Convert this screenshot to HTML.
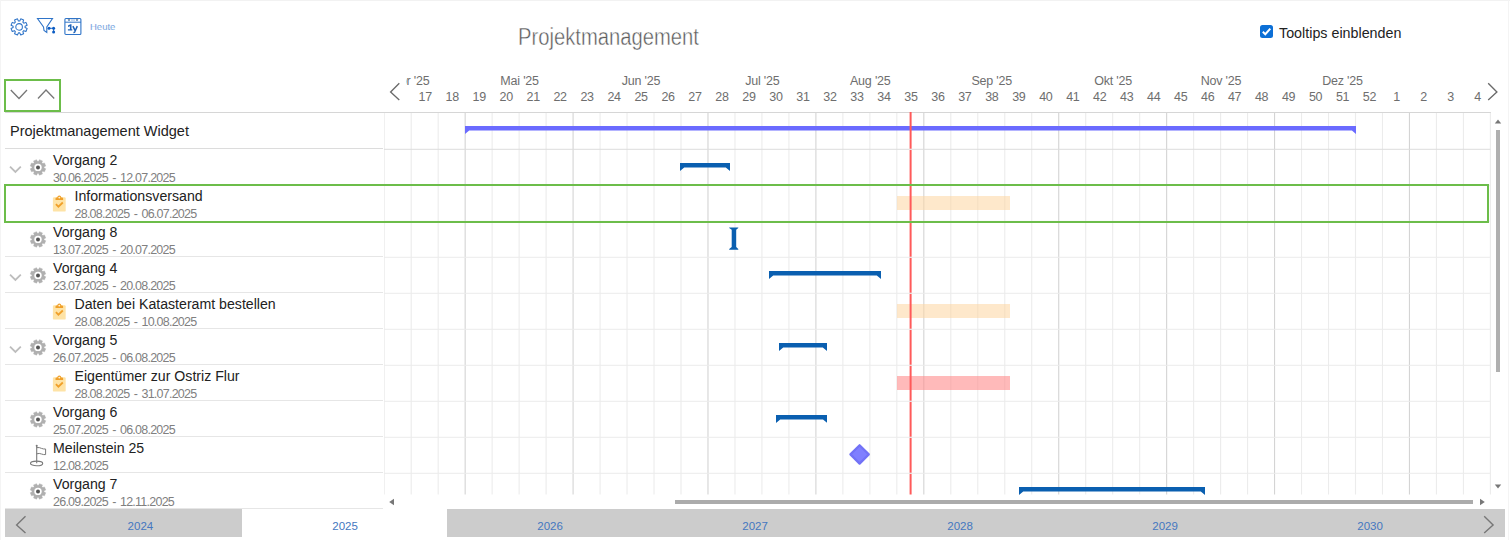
<!DOCTYPE html>
<html><head><meta charset="utf-8"><title>Projektmanagement</title><style>
*{box-sizing:border-box}
html,body{margin:0;padding:0}
body{width:1510px;height:540px;overflow:hidden;background:#fff;font-family:"Liberation Sans",sans-serif;position:relative;color:#222}
.a{position:absolute;white-space:nowrap}
.wk{position:absolute;top:89.6px;font-size:12.5px;color:#6e6e6e;text-align:center;width:30px;letter-spacing:-0.3px}
.mo{position:absolute;top:73.7px;font-size:12.5px;color:#6e6e6e;text-align:center;width:80px;letter-spacing:-0.2px}
.t{position:absolute;font-size:14.15px;color:#222;letter-spacing:0}
.d{position:absolute;font-size:12.5px;color:#808080;letter-spacing:-0.76px;word-spacing:1.6px}
.yr{position:absolute;top:519.5px;font-size:11.5px;color:#4577c0;text-align:center;width:60px}
</style></head><body>
<div class="a" style="left:0;top:0;width:1510px;height:1px;background:#f2f2f2"></div>
<div class="a" style="left:0;top:0;width:1px;height:540px;background:#f4f4f4"></div>
<div class="a" style="left:1508px;top:0;width:1px;height:540px;background:#f4f4f4"></div>
<svg class="a" style="left:8px;top:16px" width="22" height="22" viewBox="0 0 22 22">
<path fill="none" stroke="#2f74c8" stroke-width="1.05" stroke-linejoin="round" d="M11.78 4.94 L12.73 2.86 L15.63 4.06 L14.84 6.20 L15.80 7.16 L17.94 6.37 L19.14 9.27 L17.06 10.22 L17.06 11.58 L19.14 12.53 L17.94 15.43 L15.80 14.64 L14.84 15.60 L15.63 17.74 L12.73 18.94 L11.78 16.86 L10.42 16.86 L9.47 18.94 L6.57 17.74 L7.36 15.60 L6.40 14.64 L4.26 15.43 L3.06 12.53 L5.14 11.58 L5.14 10.22 L3.06 9.27 L4.26 6.37 L6.40 7.16 L7.36 6.20 L6.57 4.06 L9.47 2.86 L10.42 4.94 Z"/>
<circle cx="11.1" cy="10.9" r="3.3" fill="none" stroke="#2f74c8" stroke-width="1.05"/>
</svg>
<svg class="a" style="left:36px;top:16px" width="20" height="20" viewBox="0 0 20 20">
<path fill="none" stroke="#2f74c8" stroke-width="1.1" d="M1.5 2.5 L16.5 2.5 L10.8 11 L10.8 16.5 L8 14.5 L7.5 11 Z"/>
<circle cx="13" cy="12.3" r="1.5" fill="#0b5cc4"/><circle cx="17.6" cy="12.3" r="1.5" fill="#0b5cc4"/><circle cx="17.6" cy="16" r="1.5" fill="#0b5cc4"/>
<path stroke="#0b5cc4" stroke-width="0.9" d="M13 12.3 L17.6 12.3 M17.6 12.3 L17.6 16"/>
</svg>
<svg class="a" style="left:63px;top:17px" width="20" height="19" viewBox="0 0 20 19">
<rect x="1.9" y="1.5" width="16" height="16" rx="1" fill="none" stroke="#2f74c8" stroke-width="1.1"/>
<path stroke="#2f74c8" stroke-width="1" d="M2 5.2 L18 5.2"/>
<path stroke="#6a9fdc" stroke-width="0.8" d="M5 2.5 L6 4 L7 2.5 M13 2.5 L14 4 L15 2.5 M8 3 L12 3"/>
<path fill="#1f63b8" d="M5 8.6 L7.4 7.3 L8.5 7.3 L8.5 12.3 L9.3 12.3 L9.3 13.5 L4.9 13.5 L4.9 12.3 L6.9 12.3 L6.9 9.2 L5 10 Z"/><path fill="none" stroke="#1f63b8" stroke-width="1.5" d="M9.9 9.1 L12 13.4 M14.3 9.1 L11.8 14.8 Q11.4 15.6 10.4 15.5"/>
</svg>
<div class="a" style="left:90px;top:21px;font-size:9.5px;color:#3c7ed2;-webkit-text-stroke:0.2px #fff">Heute</div>
<div class="a" style="left:518px;top:23.5px;font-size:23.5px;color:#5a5a5a;-webkit-text-stroke:0.45px #fff;transform:scaleX(0.86);transform-origin:0 0">Projektmanagement</div>
<div class="a" style="left:1260px;top:25px;width:13px;height:13px;border-radius:2.5px;background:#0c6fd6"></div>
<svg class="a" style="left:1260px;top:25px" width="13" height="13" viewBox="0 0 13 13"><path d="M2.8 6.8 L5.3 9.2 L10.3 3.6" fill="none" stroke="#fff" stroke-width="2"/></svg>
<div class="a" style="left:1279px;top:25px;font-size:14.3px;color:#222">Tooltips einblenden</div>
<div class="a" style="left:4px;top:79px;width:57px;height:33px;border:2px solid #6cbd4a"></div>
<svg class="a" style="left:0;top:80px" width="70" height="30"><path d="M10.8 10 L19 18.5 L27 10 M38 18.5 L46 10 L54.2 18.5" fill="none" stroke="#777" stroke-width="1.3"/></svg>
<svg class="a" style="left:384px;top:112px" width="1110" height="382.5"><rect x="-0.33" y="0" width="1.1" height="382.5" fill="#ececec"/><rect x="26.65" y="0" width="1.1" height="382.5" fill="#ececec"/><rect x="53.63" y="0" width="1.1" height="382.5" fill="#ececec"/><rect x="80.61" y="0" width="1.1" height="382.5" fill="#d4d4d4"/><rect x="107.59" y="0" width="1.1" height="382.5" fill="#ececec"/><rect x="134.57" y="0" width="1.1" height="382.5" fill="#ececec"/><rect x="161.55" y="0" width="1.1" height="382.5" fill="#ececec"/><rect x="188.53" y="0" width="1.1" height="382.5" fill="#d4d4d4"/><rect x="215.51" y="0" width="1.1" height="382.5" fill="#ececec"/><rect x="242.49" y="0" width="1.1" height="382.5" fill="#ececec"/><rect x="269.47" y="0" width="1.1" height="382.5" fill="#ececec"/><rect x="296.45" y="0" width="1.1" height="382.5" fill="#ececec"/><rect x="323.43" y="0" width="1.1" height="382.5" fill="#d4d4d4"/><rect x="350.41" y="0" width="1.1" height="382.5" fill="#ececec"/><rect x="377.39" y="0" width="1.1" height="382.5" fill="#ececec"/><rect x="404.37" y="0" width="1.1" height="382.5" fill="#ececec"/><rect x="431.35" y="0" width="1.1" height="382.5" fill="#d4d4d4"/><rect x="458.33" y="0" width="1.1" height="382.5" fill="#ececec"/><rect x="485.31" y="0" width="1.1" height="382.5" fill="#ececec"/><rect x="512.29" y="0" width="1.1" height="382.5" fill="#ececec"/><rect x="539.27" y="0" width="1.1" height="382.5" fill="#d4d4d4"/><rect x="566.25" y="0" width="1.1" height="382.5" fill="#ececec"/><rect x="593.23" y="0" width="1.1" height="382.5" fill="#ececec"/><rect x="620.21" y="0" width="1.1" height="382.5" fill="#ececec"/><rect x="647.19" y="0" width="1.1" height="382.5" fill="#ececec"/><rect x="674.17" y="0" width="1.1" height="382.5" fill="#d4d4d4"/><rect x="701.15" y="0" width="1.1" height="382.5" fill="#ececec"/><rect x="728.13" y="0" width="1.1" height="382.5" fill="#ececec"/><rect x="755.11" y="0" width="1.1" height="382.5" fill="#ececec"/><rect x="782.09" y="0" width="1.1" height="382.5" fill="#d4d4d4"/><rect x="809.07" y="0" width="1.1" height="382.5" fill="#ececec"/><rect x="836.05" y="0" width="1.1" height="382.5" fill="#ececec"/><rect x="863.03" y="0" width="1.1" height="382.5" fill="#ececec"/><rect x="890.01" y="0" width="1.1" height="382.5" fill="#d4d4d4"/><rect x="916.99" y="0" width="1.1" height="382.5" fill="#ececec"/><rect x="943.97" y="0" width="1.1" height="382.5" fill="#ececec"/><rect x="970.95" y="0" width="1.1" height="382.5" fill="#ececec"/><rect x="997.93" y="0" width="1.1" height="382.5" fill="#ececec"/><rect x="1024.91" y="0" width="1.1" height="382.5" fill="#d4d4d4"/><rect x="1051.89" y="0" width="1.1" height="382.5" fill="#ececec"/><rect x="1078.87" y="0" width="1.1" height="382.5" fill="#ececec"/><rect x="1105.85" y="0" width="1.1" height="382.5" fill="#ececec"/><rect x="0" y="36.80" width="1106.4" height="1" fill="#dcdcdc"/><rect x="0" y="72.80" width="1106.4" height="1" fill="#ececec"/><rect x="0" y="108.80" width="1106.4" height="1" fill="#ececec"/><rect x="0" y="144.80" width="1106.4" height="1" fill="#ececec"/><rect x="0" y="180.80" width="1106.4" height="1" fill="#ececec"/><rect x="0" y="216.80" width="1106.4" height="1" fill="#ececec"/><rect x="0" y="252.80" width="1106.4" height="1" fill="#ececec"/><rect x="0" y="288.80" width="1106.4" height="1" fill="#ececec"/><rect x="0" y="324.80" width="1106.4" height="1" fill="#ececec"/><rect x="0" y="360.80" width="1106.4" height="1" fill="#ececec"/><rect x="0" y="-0.2" width="1106.9" height="1.2" fill="#d6d6d6"/></svg>
<div class="a" style="left:5px;top:112px;width:379px;height:1px;background:#d6d6d6"></div>
<div class="a" style="left:5px;top:148px;width:378px;height:1px;background:#dcdcdc"></div>
<div class="a" style="left:5px;top:256px;width:378px;height:1px;background:#e6e6e6"></div>
<div class="a" style="left:5px;top:292px;width:378px;height:1px;background:#e6e6e6"></div>
<div class="a" style="left:5px;top:328px;width:378px;height:1px;background:#e6e6e6"></div>
<div class="a" style="left:5px;top:364px;width:378px;height:1px;background:#e6e6e6"></div>
<div class="a" style="left:5px;top:400px;width:378px;height:1px;background:#e6e6e6"></div>
<div class="a" style="left:5px;top:436px;width:378px;height:1px;background:#e6e6e6"></div>
<div class="a" style="left:5px;top:472px;width:378px;height:1px;background:#e6e6e6"></div>
<div class="a" style="left:5px;top:508px;width:378px;height:1px;background:#e6e6e6"></div>
<div class="a" style="left:5px;top:508px;width:378px;height:1px;background:#e6e6e6"></div>
<div class="a" style="left:405.5px;top:0;width:1079.5px;height:112px;overflow:hidden"><div class="wk" style="left:4.7px">17</div><div class="wk" style="left:31.7px">18</div><div class="wk" style="left:58.7px">19</div><div class="wk" style="left:85.7px">20</div><div class="wk" style="left:112.7px">21</div><div class="wk" style="left:139.6px">22</div><div class="wk" style="left:166.6px">23</div><div class="wk" style="left:193.6px">24</div><div class="wk" style="left:220.6px">25</div><div class="wk" style="left:247.6px">26</div><div class="wk" style="left:274.5px">27</div><div class="wk" style="left:301.5px">28</div><div class="wk" style="left:328.5px">29</div><div class="wk" style="left:355.5px">30</div><div class="wk" style="left:382.5px">31</div><div class="wk" style="left:409.4px">32</div><div class="wk" style="left:436.4px">33</div><div class="wk" style="left:463.4px">34</div><div class="wk" style="left:490.4px">35</div><div class="wk" style="left:517.4px">36</div><div class="wk" style="left:544.3px">37</div><div class="wk" style="left:571.3px">38</div><div class="wk" style="left:598.3px">39</div><div class="wk" style="left:625.3px">40</div><div class="wk" style="left:652.3px">41</div><div class="wk" style="left:679.2px">42</div><div class="wk" style="left:706.2px">43</div><div class="wk" style="left:733.2px">44</div><div class="wk" style="left:760.2px">45</div><div class="wk" style="left:787.2px">46</div><div class="wk" style="left:814.1px">47</div><div class="wk" style="left:841.1px">48</div><div class="wk" style="left:868.1px">49</div><div class="wk" style="left:895.1px">50</div><div class="wk" style="left:922.1px">51</div><div class="wk" style="left:949.0px">52</div><div class="wk" style="left:976.0px">1</div><div class="wk" style="left:1003.0px">2</div><div class="wk" style="left:1030.0px">3</div><div class="wk" style="left:1057.0px">4</div><div class="mo" style="left:74.1px">Mai '25</div><div class="mo" style="left:195.5px">Jun '25</div><div class="mo" style="left:316.9px">Jul '25</div><div class="mo" style="left:424.8px">Aug '25</div><div class="mo" style="left:546.2px">Sep '25</div><div class="mo" style="left:667.6px">Okt '25</div><div class="mo" style="left:775.5px">Nov '25</div><div class="mo" style="left:897.0px">Dez '25</div><div class="mo" style="left:-56.0px;text-align:right">Apr '25</div></div>
<svg class="a" style="left:386px;top:80px" width="18" height="24"><path d="M13.3 3.3 L4.6 11.9 L13.3 20" fill="none" stroke="#6a6a6a" stroke-width="1.35"/></svg>
<svg class="a" style="left:1484px;top:80px" width="18" height="24"><path d="M4.2 3.3 L12.9 11.9 L4.2 20" fill="none" stroke="#6a6a6a" stroke-width="1.35"/></svg>
<svg class="a" style="left:464.7px;top:125.8px" width="891.1" height="9" viewBox="0 0 891.1 9"><path d="M0 0 L891.1 0 L891.1 8 L886.9 4.4 L4.2 4.4 L0 8 Z" fill="#6b6bff"/></svg>
<svg class="a" style="left:680.0px;top:163.1px" width="50.0" height="9" viewBox="0 0 50.0 9"><path d="M0 0 L50.0 0 L50.0 8 L45.8 4.4 L4.2 4.4 L0 8 Z" fill="#0a5fb0"/></svg>
<svg class="a" style="left:769.0px;top:270.8px" width="112.0" height="9" viewBox="0 0 112.0 9"><path d="M0 0 L112.0 0 L112.0 8 L107.8 4.4 L4.2 4.4 L0 8 Z" fill="#0a5fb0"/></svg>
<svg class="a" style="left:779.0px;top:342.9px" width="48.0" height="9" viewBox="0 0 48.0 9"><path d="M0 0 L48.0 0 L48.0 8 L43.8 4.4 L4.2 4.4 L0 8 Z" fill="#0a5fb0"/></svg>
<svg class="a" style="left:775.8px;top:414.9px" width="51.2" height="9" viewBox="0 0 51.2 9"><path d="M0 0 L51.2 0 L51.2 8 L47.0 4.4 L4.2 4.4 L0 8 Z" fill="#0a5fb0"/></svg>
<div class="a" style="left:1019px;top:486px;width:187px;height:8.5px;overflow:hidden"><svg class="a" style="left:0px;top:1px" width="186.0" height="9" viewBox="0 0 186.0 9"><path d="M0 0 L186.0 0 L186.0 8 L181.8 4.4 L4.2 4.4 L0 8 Z" fill="#0a5fb0"/></svg></div>
<svg class="a" style="left:728px;top:226px" width="12" height="25" viewBox="0 0 12 25"><path d="M1.2 1.4 L10.3 1.4 L10.3 2 L8.2 3.8 L8.2 21 L10.3 22.9 L10.3 23.7 L1.2 23.7 L1.2 22.9 L3.7 21 L3.7 3.8 L1.2 2 Z" fill="#0a5fb0"/></svg>
<div class="a" style="left:897px;top:196px;width:113px;height:14px;background:rgba(253,214,160,0.55)"></div>
<div class="a" style="left:897px;top:304px;width:113px;height:14px;background:rgba(253,214,160,0.55)"></div>
<div class="a" style="left:897px;top:376px;width:113px;height:14px;background:rgba(255,140,140,0.6)"></div>
<svg class="a" style="left:847px;top:442px" width="25" height="25" viewBox="0 0 25 25"><path d="M12.6 3.2 L21.8 12.4 L12.6 21.6 L3.4 12.4 Z" fill="#7f7fff" stroke="#7272f6" stroke-width="2.2" stroke-linejoin="round"/></svg>
<svg class="a" style="left:900px;top:112px" width="20" height="383"><rect x="9.6" y="0" width="2" height="382.5" fill="#ff5a5a"/><rect x="9" y="36.70" width="3" height="1.2" fill="#ececec"/><rect x="9" y="72.70" width="3" height="1.2" fill="#ececec"/><rect x="9" y="108.70" width="3" height="1.2" fill="#ececec"/><rect x="9" y="144.70" width="3" height="1.2" fill="#ececec"/><rect x="9" y="180.70" width="3" height="1.2" fill="#ececec"/><rect x="9" y="216.70" width="3" height="1.2" fill="#ececec"/><rect x="9" y="252.70" width="3" height="1.2" fill="#ececec"/><rect x="9" y="288.70" width="3" height="1.2" fill="#ececec"/><rect x="9" y="324.70" width="3" height="1.2" fill="#ececec"/><rect x="9" y="360.70" width="3" height="1.2" fill="#ececec"/></svg>
<div class="a" style="left:4px;top:184px;width:1485px;height:39px;border:2px solid #6cbd4a"></div>
<div class="t" style="left:10px;top:123px;font-size:14.5px">Projektmanagement Widget</div>
<svg class="a" style="left:8px;top:165px" width="14" height="10"><path d="M2 1.6 L7.4 7 L12.8 1.6" fill="none" stroke="#bdbdbd" stroke-width="1.8"/></svg><svg class="a" style="left:29px;top:158px" width="18" height="18" viewBox="0 0 18 18"><path fill="#b0b0b0" stroke="#b0b0b0" stroke-width="0.4" stroke-linejoin="round" d="M9.46 3.52 L10.44 1.63 L13.47 2.89 L12.83 4.91 L13.49 5.57 L15.51 4.93 L16.77 7.96 L14.88 8.94 L14.88 9.86 L16.77 10.84 L15.51 13.87 L13.49 13.23 L12.83 13.89 L13.47 15.91 L10.44 17.17 L9.46 15.28 L8.54 15.28 L7.56 17.17 L4.53 15.91 L5.17 13.89 L4.51 13.23 L2.49 13.87 L1.23 10.84 L3.12 9.86 L3.12 8.94 L1.23 7.96 L2.49 4.93 L4.51 5.57 L5.17 4.91 L4.53 2.89 L7.56 1.63 L8.54 3.52 Z"/><circle cx="9" cy="9.4" r="5.9" fill="#b0b0b0"/><circle cx="9" cy="9.4" r="3.7" fill="#fff"/><circle cx="9" cy="9.4" r="2" fill="#555"/></svg><div class="t" style="left:53px;top:152.2px">Vorgang 2</div><div class="d" style="left:53px;top:171.2px">30.06.2025 - 12.07.2025</div><svg class="a" style="left:52px;top:195px" width="14" height="18" viewBox="0 0 14 18"><rect x="0.9" y="2.2" width="12.8" height="14.4" rx="1.2" fill="#fee3a6"/><path d="M3.5 5 L3.5 3.6 Q3.5 2.6 4.6 2.6 L5.2 2.6 Q5.5 0.4 7.3 0.4 Q9.1 0.4 9.4 2.6 L10 2.6 Q11.1 2.6 11.1 3.6 L11.1 5 Z" fill="#f0a02a"/><circle cx="7.3" cy="2.6" r="0.95" fill="#fff3d8"/><path d="M3.9 9.2 L6.4 11.7 L10.8 7.5" fill="none" stroke="#f0a02a" stroke-width="1.8"/></svg><div class="t" style="left:74.5px;top:188.2px">Informationsversand</div><div class="d" style="left:74.5px;top:207.2px">28.08.2025 - 06.07.2025</div><svg class="a" style="left:29px;top:230px" width="18" height="18" viewBox="0 0 18 18"><path fill="#b0b0b0" stroke="#b0b0b0" stroke-width="0.4" stroke-linejoin="round" d="M9.46 3.52 L10.44 1.63 L13.47 2.89 L12.83 4.91 L13.49 5.57 L15.51 4.93 L16.77 7.96 L14.88 8.94 L14.88 9.86 L16.77 10.84 L15.51 13.87 L13.49 13.23 L12.83 13.89 L13.47 15.91 L10.44 17.17 L9.46 15.28 L8.54 15.28 L7.56 17.17 L4.53 15.91 L5.17 13.89 L4.51 13.23 L2.49 13.87 L1.23 10.84 L3.12 9.86 L3.12 8.94 L1.23 7.96 L2.49 4.93 L4.51 5.57 L5.17 4.91 L4.53 2.89 L7.56 1.63 L8.54 3.52 Z"/><circle cx="9" cy="9.4" r="5.9" fill="#b0b0b0"/><circle cx="9" cy="9.4" r="3.7" fill="#fff"/><circle cx="9" cy="9.4" r="2" fill="#555"/></svg><div class="t" style="left:53px;top:224.2px">Vorgang 8</div><div class="d" style="left:53px;top:243.2px">13.07.2025 - 20.07.2025</div><svg class="a" style="left:8px;top:273px" width="14" height="10"><path d="M2 1.6 L7.4 7 L12.8 1.6" fill="none" stroke="#bdbdbd" stroke-width="1.8"/></svg><svg class="a" style="left:29px;top:266px" width="18" height="18" viewBox="0 0 18 18"><path fill="#b0b0b0" stroke="#b0b0b0" stroke-width="0.4" stroke-linejoin="round" d="M9.46 3.52 L10.44 1.63 L13.47 2.89 L12.83 4.91 L13.49 5.57 L15.51 4.93 L16.77 7.96 L14.88 8.94 L14.88 9.86 L16.77 10.84 L15.51 13.87 L13.49 13.23 L12.83 13.89 L13.47 15.91 L10.44 17.17 L9.46 15.28 L8.54 15.28 L7.56 17.17 L4.53 15.91 L5.17 13.89 L4.51 13.23 L2.49 13.87 L1.23 10.84 L3.12 9.86 L3.12 8.94 L1.23 7.96 L2.49 4.93 L4.51 5.57 L5.17 4.91 L4.53 2.89 L7.56 1.63 L8.54 3.52 Z"/><circle cx="9" cy="9.4" r="5.9" fill="#b0b0b0"/><circle cx="9" cy="9.4" r="3.7" fill="#fff"/><circle cx="9" cy="9.4" r="2" fill="#555"/></svg><div class="t" style="left:53px;top:260.2px">Vorgang 4</div><div class="d" style="left:53px;top:279.2px">23.07.2025 - 20.08.2025</div><svg class="a" style="left:52px;top:303px" width="14" height="18" viewBox="0 0 14 18"><rect x="0.9" y="2.2" width="12.8" height="14.4" rx="1.2" fill="#fee3a6"/><path d="M3.5 5 L3.5 3.6 Q3.5 2.6 4.6 2.6 L5.2 2.6 Q5.5 0.4 7.3 0.4 Q9.1 0.4 9.4 2.6 L10 2.6 Q11.1 2.6 11.1 3.6 L11.1 5 Z" fill="#f0a02a"/><circle cx="7.3" cy="2.6" r="0.95" fill="#fff3d8"/><path d="M3.9 9.2 L6.4 11.7 L10.8 7.5" fill="none" stroke="#f0a02a" stroke-width="1.8"/></svg><div class="t" style="left:74.5px;top:296.2px">Daten bei Katasteramt bestellen</div><div class="d" style="left:74.5px;top:315.2px">28.08.2025 - 10.08.2025</div><svg class="a" style="left:8px;top:345px" width="14" height="10"><path d="M2 1.6 L7.4 7 L12.8 1.6" fill="none" stroke="#bdbdbd" stroke-width="1.8"/></svg><svg class="a" style="left:29px;top:338px" width="18" height="18" viewBox="0 0 18 18"><path fill="#b0b0b0" stroke="#b0b0b0" stroke-width="0.4" stroke-linejoin="round" d="M9.46 3.52 L10.44 1.63 L13.47 2.89 L12.83 4.91 L13.49 5.57 L15.51 4.93 L16.77 7.96 L14.88 8.94 L14.88 9.86 L16.77 10.84 L15.51 13.87 L13.49 13.23 L12.83 13.89 L13.47 15.91 L10.44 17.17 L9.46 15.28 L8.54 15.28 L7.56 17.17 L4.53 15.91 L5.17 13.89 L4.51 13.23 L2.49 13.87 L1.23 10.84 L3.12 9.86 L3.12 8.94 L1.23 7.96 L2.49 4.93 L4.51 5.57 L5.17 4.91 L4.53 2.89 L7.56 1.63 L8.54 3.52 Z"/><circle cx="9" cy="9.4" r="5.9" fill="#b0b0b0"/><circle cx="9" cy="9.4" r="3.7" fill="#fff"/><circle cx="9" cy="9.4" r="2" fill="#555"/></svg><div class="t" style="left:53px;top:332.2px">Vorgang 5</div><div class="d" style="left:53px;top:351.2px">26.07.2025 - 06.08.2025</div><svg class="a" style="left:52px;top:375px" width="14" height="18" viewBox="0 0 14 18"><rect x="0.9" y="2.2" width="12.8" height="14.4" rx="1.2" fill="#fee3a6"/><path d="M3.5 5 L3.5 3.6 Q3.5 2.6 4.6 2.6 L5.2 2.6 Q5.5 0.4 7.3 0.4 Q9.1 0.4 9.4 2.6 L10 2.6 Q11.1 2.6 11.1 3.6 L11.1 5 Z" fill="#f0a02a"/><circle cx="7.3" cy="2.6" r="0.95" fill="#fff3d8"/><path d="M3.9 9.2 L6.4 11.7 L10.8 7.5" fill="none" stroke="#f0a02a" stroke-width="1.8"/></svg><div class="t" style="left:74.5px;top:368.2px">Eigentümer zur Ostriz Flur</div><div class="d" style="left:74.5px;top:387.2px">28.08.2025 - 31.07.2025</div><svg class="a" style="left:29px;top:410px" width="18" height="18" viewBox="0 0 18 18"><path fill="#b0b0b0" stroke="#b0b0b0" stroke-width="0.4" stroke-linejoin="round" d="M9.46 3.52 L10.44 1.63 L13.47 2.89 L12.83 4.91 L13.49 5.57 L15.51 4.93 L16.77 7.96 L14.88 8.94 L14.88 9.86 L16.77 10.84 L15.51 13.87 L13.49 13.23 L12.83 13.89 L13.47 15.91 L10.44 17.17 L9.46 15.28 L8.54 15.28 L7.56 17.17 L4.53 15.91 L5.17 13.89 L4.51 13.23 L2.49 13.87 L1.23 10.84 L3.12 9.86 L3.12 8.94 L1.23 7.96 L2.49 4.93 L4.51 5.57 L5.17 4.91 L4.53 2.89 L7.56 1.63 L8.54 3.52 Z"/><circle cx="9" cy="9.4" r="5.9" fill="#b0b0b0"/><circle cx="9" cy="9.4" r="3.7" fill="#fff"/><circle cx="9" cy="9.4" r="2" fill="#555"/></svg><div class="t" style="left:53px;top:404.2px">Vorgang 6</div><div class="d" style="left:53px;top:423.2px">25.07.2025 - 06.08.2025</div><svg class="a" style="left:29px;top:444px" width="18" height="24" viewBox="0 0 18 24"><path d="M7.7 1.6 L7.7 19.2" fill="none" stroke="#7a7a7a" stroke-width="1.1"/><circle cx="7.7" cy="1.8" r="1" fill="#7a7a7a"/><path d="M7.7 3.6 Q10.5 3.2 12.5 4.4 Q14.5 5.2 16.6 5 L16.6 10.6 Q14.5 10.8 12.5 10 Q10.5 9 7.7 9.8" fill="none" stroke="#7a7a7a" stroke-width="1"/><ellipse cx="7.6" cy="19.4" rx="6.1" ry="2.3" fill="none" stroke="#7a7a7a" stroke-width="1.1"/></svg><div class="t" style="left:53px;top:440.2px">Meilenstein 25</div><div class="d" style="left:53px;top:459.2px">12.08.2025</div><svg class="a" style="left:29px;top:482px" width="18" height="18" viewBox="0 0 18 18"><path fill="#b0b0b0" stroke="#b0b0b0" stroke-width="0.4" stroke-linejoin="round" d="M9.46 3.52 L10.44 1.63 L13.47 2.89 L12.83 4.91 L13.49 5.57 L15.51 4.93 L16.77 7.96 L14.88 8.94 L14.88 9.86 L16.77 10.84 L15.51 13.87 L13.49 13.23 L12.83 13.89 L13.47 15.91 L10.44 17.17 L9.46 15.28 L8.54 15.28 L7.56 17.17 L4.53 15.91 L5.17 13.89 L4.51 13.23 L2.49 13.87 L1.23 10.84 L3.12 9.86 L3.12 8.94 L1.23 7.96 L2.49 4.93 L4.51 5.57 L5.17 4.91 L4.53 2.89 L7.56 1.63 L8.54 3.52 Z"/><circle cx="9" cy="9.4" r="5.9" fill="#b0b0b0"/><circle cx="9" cy="9.4" r="3.7" fill="#fff"/><circle cx="9" cy="9.4" r="2" fill="#555"/></svg><div class="t" style="left:53px;top:476.2px">Vorgang 7</div><div class="d" style="left:53px;top:495.2px">26.09.2025 - 12.11.2025</div>
<div class="a" style="left:1495.5px;top:130px;width:4.5px;height:241.5px;background:#b0b0b0"></div>
<svg class="a" style="left:1493px;top:117px" width="10" height="8"><path d="M1.8 6.5 L5 2.4 L8.2 6.5 Z" fill="#777"/></svg>
<svg class="a" style="left:1493px;top:482px" width="10" height="8"><path d="M1.8 2.5 L5 6.6 L8.2 2.5 Z" fill="#777"/></svg>
<div class="a" style="left:675px;top:500px;width:798px;height:4px;background:#ababab"></div>
<svg class="a" style="left:386px;top:497px" width="10" height="10"><path d="M8 1.8 L3.2 5 L8 8.2 Z" fill="#777"/></svg>
<svg class="a" style="left:1477px;top:497px" width="10" height="10"><path d="M3 1.8 L7.8 5 L3 8.2 Z" fill="#777"/></svg>
<div class="a" style="left:5px;top:509px;width:237px;height:28px;background:#cccccc"></div>
<div class="a" style="left:447px;top:509px;width:1058px;height:28px;background:#cccccc"></div>
<svg class="a" style="left:12px;top:513px" width="18" height="22"><path d="M13.5 3.3 L4.6 11.9 L13.5 20" fill="none" stroke="#777" stroke-width="1.4"/></svg>
<svg class="a" style="left:1480px;top:513px" width="18" height="22"><path d="M4.2 3.3 L13.1 11.9 L4.2 20" fill="none" stroke="#777" stroke-width="1.4"/></svg>
<div class="yr" style="left:110.4px">2024</div>
<div class="yr" style="left:315.1px">2025</div>
<div class="yr" style="left:520.1px">2026</div>
<div class="yr" style="left:725.1px">2027</div>
<div class="yr" style="left:930.1px">2028</div>
<div class="yr" style="left:1135.1px">2029</div>
<div class="yr" style="left:1340.1px">2030</div>
</body></html>
